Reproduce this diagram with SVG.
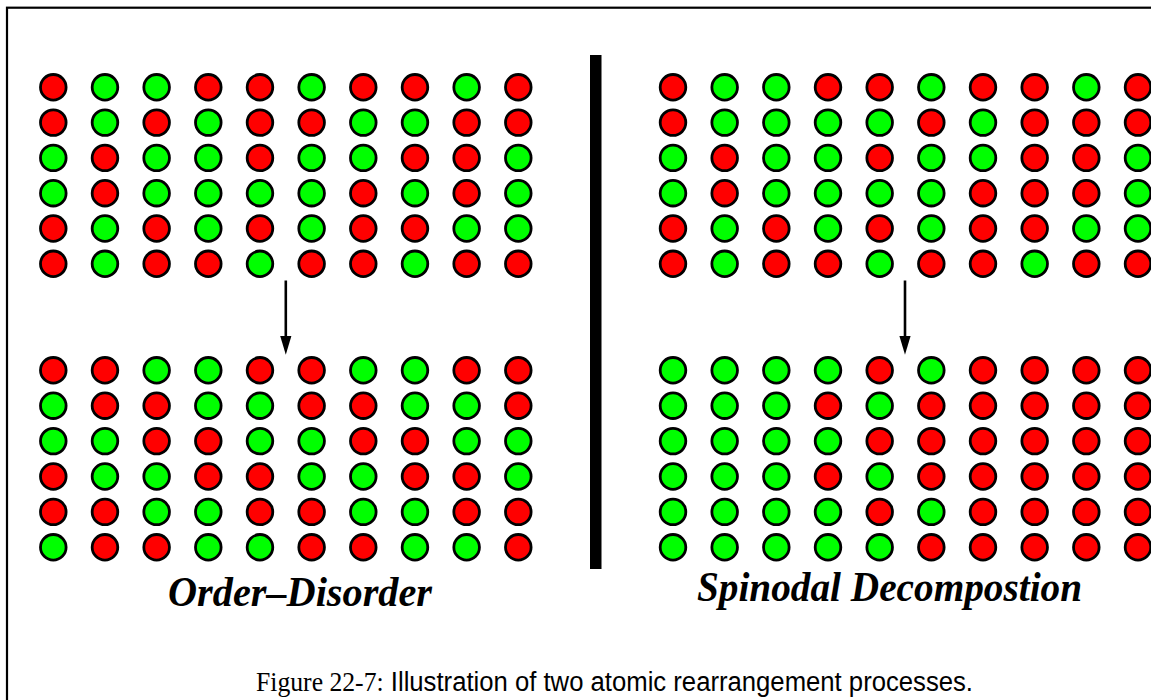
<svg xmlns="http://www.w3.org/2000/svg" width="1151" height="700" viewBox="0 0 1151 700">
<style>
.r{fill:#ff0000;stroke:#000;stroke-width:2.8}
.g{fill:#00ff00;stroke:#000;stroke-width:2.8}
.lbl{font-family:"Liberation Serif",serif;font-weight:bold;font-style:italic;font-size:43px;fill:#000}
.cap{font-family:"Liberation Sans",sans-serif;font-size:27px;fill:#000}
</style>
<defs>
<circle id="R" r="12.8" class="r"/>
<circle id="G" r="12.8" class="g"/>
<marker id="ah" markerWidth="19" markerHeight="32" refX="18" refY="9.5" orient="auto" markerUnits="userSpaceOnUse" viewBox="0 0 32 19">
<path d="M0,0 L32,9.5 L0,19 Z" fill="#000"/>
</marker>
</defs>
<rect x="7" y="7.7" width="1160" height="720" fill="#fff" stroke="#000" stroke-width="2.2"/>
<rect x="590" y="55" width="11.5" height="514" fill="#000"/>
<g id="grid-order-before">
<g transform="translate(53.3,87.3)"><use href="#R"/><use href="#G" x="51.67"/><use href="#G" x="103.33"/><use href="#R" x="155"/><use href="#R" x="206.67"/><use href="#G" x="258.33"/><use href="#R" x="310"/><use href="#R" x="361.67"/><use href="#G" x="413.33"/><use href="#R" x="465"/></g>
<g transform="translate(53.3,122.6)"><use href="#R"/><use href="#G" x="51.67"/><use href="#R" x="103.33"/><use href="#G" x="155"/><use href="#R" x="206.67"/><use href="#R" x="258.33"/><use href="#G" x="310"/><use href="#G" x="361.67"/><use href="#R" x="413.33"/><use href="#R" x="465"/></g>
<g transform="translate(53.3,157.9)"><use href="#G"/><use href="#R" x="51.67"/><use href="#G" x="103.33"/><use href="#G" x="155"/><use href="#R" x="206.67"/><use href="#G" x="258.33"/><use href="#G" x="310"/><use href="#R" x="361.67"/><use href="#R" x="413.33"/><use href="#G" x="465"/></g>
<g transform="translate(53.3,193.2)"><use href="#G"/><use href="#R" x="51.67"/><use href="#G" x="103.33"/><use href="#G" x="155"/><use href="#G" x="206.67"/><use href="#G" x="258.33"/><use href="#R" x="310"/><use href="#G" x="361.67"/><use href="#R" x="413.33"/><use href="#G" x="465"/></g>
<g transform="translate(53.3,228.5)"><use href="#R"/><use href="#G" x="51.67"/><use href="#R" x="103.33"/><use href="#G" x="155"/><use href="#R" x="206.67"/><use href="#G" x="258.33"/><use href="#R" x="310"/><use href="#R" x="361.67"/><use href="#G" x="413.33"/><use href="#G" x="465"/></g>
<g transform="translate(53.3,263.8)"><use href="#R"/><use href="#G" x="51.67"/><use href="#R" x="103.33"/><use href="#R" x="155"/><use href="#G" x="206.67"/><use href="#R" x="258.33"/><use href="#R" x="310"/><use href="#G" x="361.67"/><use href="#R" x="413.33"/><use href="#R" x="465"/></g>
</g>
<g id="grid-order-after">
<g transform="translate(53.3,370.3)"><use href="#R"/><use href="#R" x="51.67"/><use href="#G" x="103.33"/><use href="#G" x="155"/><use href="#R" x="206.67"/><use href="#R" x="258.33"/><use href="#G" x="310"/><use href="#G" x="361.67"/><use href="#R" x="413.33"/><use href="#R" x="465"/></g>
<g transform="translate(53.3,405.7)"><use href="#G"/><use href="#R" x="51.67"/><use href="#R" x="103.33"/><use href="#G" x="155"/><use href="#G" x="206.67"/><use href="#R" x="258.33"/><use href="#R" x="310"/><use href="#G" x="361.67"/><use href="#G" x="413.33"/><use href="#R" x="465"/></g>
<g transform="translate(53.3,441.1)"><use href="#G"/><use href="#G" x="51.67"/><use href="#R" x="103.33"/><use href="#R" x="155"/><use href="#G" x="206.67"/><use href="#G" x="258.33"/><use href="#R" x="310"/><use href="#R" x="361.67"/><use href="#G" x="413.33"/><use href="#G" x="465"/></g>
<g transform="translate(53.3,476.5)"><use href="#R"/><use href="#G" x="51.67"/><use href="#G" x="103.33"/><use href="#R" x="155"/><use href="#R" x="206.67"/><use href="#G" x="258.33"/><use href="#G" x="310"/><use href="#R" x="361.67"/><use href="#R" x="413.33"/><use href="#G" x="465"/></g>
<g transform="translate(53.3,511.9)"><use href="#R"/><use href="#R" x="51.67"/><use href="#G" x="103.33"/><use href="#G" x="155"/><use href="#R" x="206.67"/><use href="#R" x="258.33"/><use href="#G" x="310"/><use href="#G" x="361.67"/><use href="#R" x="413.33"/><use href="#R" x="465"/></g>
<g transform="translate(53.3,547.3)"><use href="#G"/><use href="#R" x="51.67"/><use href="#R" x="103.33"/><use href="#G" x="155"/><use href="#G" x="206.67"/><use href="#R" x="258.33"/><use href="#R" x="310"/><use href="#G" x="361.67"/><use href="#G" x="413.33"/><use href="#R" x="465"/></g>
</g>
<g id="grid-spinodal-before">
<g transform="translate(673,87.3)"><use href="#R"/><use href="#G" x="51.67"/><use href="#G" x="103.33"/><use href="#R" x="155"/><use href="#R" x="206.67"/><use href="#G" x="258.33"/><use href="#R" x="310"/><use href="#R" x="361.67"/><use href="#G" x="413.33"/><use href="#R" x="465"/></g>
<g transform="translate(673,122.6)"><use href="#R"/><use href="#G" x="51.67"/><use href="#G" x="103.33"/><use href="#G" x="155"/><use href="#G" x="206.67"/><use href="#R" x="258.33"/><use href="#G" x="310"/><use href="#R" x="361.67"/><use href="#R" x="413.33"/><use href="#R" x="465"/></g>
<g transform="translate(673,157.9)"><use href="#G"/><use href="#R" x="51.67"/><use href="#G" x="103.33"/><use href="#G" x="155"/><use href="#R" x="206.67"/><use href="#G" x="258.33"/><use href="#G" x="310"/><use href="#R" x="361.67"/><use href="#R" x="413.33"/><use href="#G" x="465"/></g>
<g transform="translate(673,193.2)"><use href="#G"/><use href="#R" x="51.67"/><use href="#G" x="103.33"/><use href="#G" x="155"/><use href="#G" x="206.67"/><use href="#G" x="258.33"/><use href="#R" x="310"/><use href="#R" x="361.67"/><use href="#R" x="413.33"/><use href="#G" x="465"/></g>
<g transform="translate(673,228.5)"><use href="#R"/><use href="#G" x="51.67"/><use href="#R" x="103.33"/><use href="#G" x="155"/><use href="#R" x="206.67"/><use href="#G" x="258.33"/><use href="#R" x="310"/><use href="#R" x="361.67"/><use href="#G" x="413.33"/><use href="#G" x="465"/></g>
<g transform="translate(673,263.8)"><use href="#R"/><use href="#G" x="51.67"/><use href="#R" x="103.33"/><use href="#R" x="155"/><use href="#G" x="206.67"/><use href="#R" x="258.33"/><use href="#R" x="310"/><use href="#G" x="361.67"/><use href="#R" x="413.33"/><use href="#R" x="465"/></g>
</g>
<g id="grid-spinodal-after">
<g transform="translate(673,370.3)"><use href="#G"/><use href="#G" x="51.67"/><use href="#G" x="103.33"/><use href="#G" x="155"/><use href="#R" x="206.67"/><use href="#G" x="258.33"/><use href="#R" x="310"/><use href="#R" x="361.67"/><use href="#R" x="413.33"/><use href="#R" x="465"/></g>
<g transform="translate(673,405.7)"><use href="#G"/><use href="#G" x="51.67"/><use href="#G" x="103.33"/><use href="#R" x="155"/><use href="#G" x="206.67"/><use href="#R" x="258.33"/><use href="#R" x="310"/><use href="#R" x="361.67"/><use href="#R" x="413.33"/><use href="#R" x="465"/></g>
<g transform="translate(673,441.1)"><use href="#G"/><use href="#G" x="51.67"/><use href="#G" x="103.33"/><use href="#G" x="155"/><use href="#R" x="206.67"/><use href="#R" x="258.33"/><use href="#R" x="310"/><use href="#R" x="361.67"/><use href="#R" x="413.33"/><use href="#R" x="465"/></g>
<g transform="translate(673,476.5)"><use href="#G"/><use href="#G" x="51.67"/><use href="#G" x="103.33"/><use href="#R" x="155"/><use href="#G" x="206.67"/><use href="#R" x="258.33"/><use href="#R" x="310"/><use href="#R" x="361.67"/><use href="#R" x="413.33"/><use href="#R" x="465"/></g>
<g transform="translate(673,511.9)"><use href="#G"/><use href="#G" x="51.67"/><use href="#G" x="103.33"/><use href="#G" x="155"/><use href="#R" x="206.67"/><use href="#G" x="258.33"/><use href="#R" x="310"/><use href="#R" x="361.67"/><use href="#R" x="413.33"/><use href="#R" x="465"/></g>
<g transform="translate(673,547.3)"><use href="#G"/><use href="#G" x="51.67"/><use href="#G" x="103.33"/><use href="#G" x="155"/><use href="#G" x="206.67"/><use href="#R" x="258.33"/><use href="#R" x="310"/><use href="#R" x="361.67"/><use href="#R" x="413.33"/><use href="#R" x="465"/></g>
</g>
<g id="connectors" stroke="#000" stroke-width="2.6" fill="none">
<line x1="285.8" y1="280.5" x2="285.8" y2="346.5" marker-end="url(#ah)"/>
<line x1="905" y1="280.5" x2="905" y2="346.5" marker-end="url(#ah)"/>
</g>
<g id="labels">
<text class="lbl" x="168" y="606" textLength="264" lengthAdjust="spacingAndGlyphs">Order–Disorder</text>
<text class="lbl" x="697" y="601" textLength="385" lengthAdjust="spacingAndGlyphs">Spinodal Decompostion</text>
<text class="cap" x="256" y="691" textLength="717" lengthAdjust="spacingAndGlyphs"><tspan font-family="Liberation Serif, serif">Figure 22-7:</tspan> Illustration of two atomic rearrangement processes.</text>
</g>
</svg>
